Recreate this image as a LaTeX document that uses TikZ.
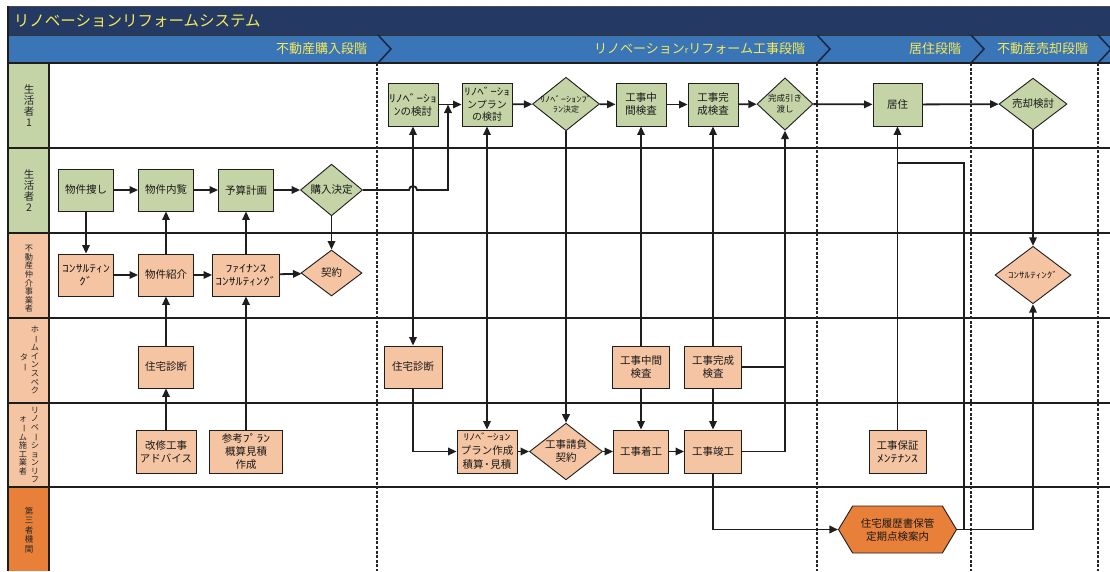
\documentclass[tikz,border=0pt]{standalone}
\usepackage{fontspec}
\setmainfont{Noto Sans CJK JP}
\newfontfamily\hkfont[FakeStretch=1.3]{Noto Sans CJK JP}
\usetikzlibrary{shapes.geometric,shapes.symbols,arrows.meta,calc}

\definecolor{navy}{RGB}{36,57,99}
\definecolor{phaseblue}{RGB}{58,117,184}
\definecolor{titleyellow}{RGB}{246,234,84}
\definecolor{actgreen}{RGB}{196,212,166}
\definecolor{actsalmon}{RGB}{245,196,162}
\definecolor{actorange}{RGB}{233,128,58}
\definecolor{linegray}{RGB}{30,30,30}

\newcommand{\hk}[1]{{\hkfont #1}}
\newcommand{\vbar}{\rotatebox[origin=c]{-90}{ー}}

\tikzset{
  lanelabel/.style={align=center, inner sep=0pt, text=black!85},
  act/.style={draw=linegray, line width=0.9pt, inner sep=1pt, align=center,
    minimum width=55pt, minimum height=42pt, text=black!90,
    font=\fontsize{10.5}{13}\selectfont},
  dec/.style={act, diamond, inner sep=0pt},
  flow/.style={draw=linegray, line width=1.8pt},
  sep/.style={line width=2.6pt, dash pattern=on 3pt off 1.6pt, draw=black!85},
}

\begin{document}
\begin{tikzpicture}[x=1pt, y=-1pt, >={Triangle[length=8.5pt,width=7.5pt]}, line width=1.2pt]
   \useasboundingbox (0,0) rectangle (1110,571);
   % title and phases
   \fill[navy] (8,7) rectangle (1110,35);
   \fill[phaseblue] (8,35) rectangle (1110,63);
   \draw[black!70, line width=0.8pt] (8,6) -- (1110,6);
   \draw[black!80, line width=0.8pt] (8,35) -- (1110,35);
   \foreach \x in {378,817,971,1098}
     \draw[navy!70!black, line width=1.6pt] (\x,35) -- (\x+13,49) -- (\x,63);
   \node[anchor=west, text=titleyellow, font=\fontsize{15.5}{15}\selectfont] (title) at (10,21) {リノベーションリフォームシステム};
   \begin{scope}[every node/.style={anchor=east, text=titleyellow, font=\fontsize{13}{13}\selectfont}]
    \node (ph1) at (371,49) {不動産購入段階};
    \node (ph2) at (809,49) {リノベーション{\fontsize{9}{9}\selectfont r}リフォーム工事段階};
    \node (ph3) at (965,49) {居住段階};
    \node (ph4) at (1092,49) {不動産売却段階};
   \end{scope}

   % lanes
   \fill[actgreen] (8,63) rectangle (49,233);
   \fill[actsalmon] (8,233) rectangle (49,487);
   \fill[actorange] (8,487) rectangle (49,571);
   \foreach \y in {63,148,233,318,403,487}
     \draw[linegray, line width=1.3pt] (8,\y) -- (1110,\y);
   \draw[linegray, line width=1.3pt] (8,6) -- (8,571);
   \draw[linegray, line width=1.3pt] (49,63) -- (49,571);
   \foreach \x in {377,817,971,1098}
     \draw[sep] (\x,63) -- (\x,571);

   \begin{scope}[every node/.style={lanelabel, font=\fontsize{10.5}{11}\selectfont}]
    \node (lane1) at (29,106) {生\\活\\者\\1};
    \node (lane2) at (29,191) {生\\活\\者\\2};
   \end{scope}
   \begin{scope}[every node/.style={lanelabel, font=\fontsize{8.2}{8.6}\selectfont}]
    \node (lane3) at (29,279) {不\\動\\産\\仲\\介\\事\\業\\者};
    \node (lane4a) at (35,360) {ホ\\\vbar\\ム\\イ\\ン\\ス\\ペ\\ク};
    \node (lane4b) at (24,363) {タ\\\vbar};
    \node (lane5a) at (35,445) {リ\\ノ\\ベ\\\vbar\\シ\\ョ\\ン\\リ\\フ};
    \node (lane5b) at (23,446) {ォ\\\vbar\\ム\\施\\工\\業\\者};
   \end{scope}
   \node[lanelabel, font=\fontsize{8.5}{9.4}\selectfont] (lane6) at (29,530) {第\\三\\者\\機\\関};

   % activities
   \begin{scope}[every node/.style={act, fill=actgreen}]
    \node (search) at (86,190) {物件捜し};
    \node (view) at (166,190) {物件内覧};
    \node (budget) at (246,190) {予算計画};
    \node (plan) [minimum width=50pt, minimum height=43pt] at (413,104.5) {\hk{ﾘﾉﾍﾞｰｼｮ}\\\hk{ﾝ}の検討};
    \node (planrev) [minimum width=50pt, minimum height=43pt, font=\fontsize{10}{12.5}\selectfont] at (487,104.5) {\hk{ﾘﾉﾍﾞｰｼｮ}\\ンプラン\\の検討};
    \node (midchk) [minimum width=50pt, minimum height=43pt] at (641,104.5) {工事中\\間検査};
    \node (endchk) [minimum width=50pt, minimum height=43pt] at (713,104.5) {工事完\\成検査};
    \node (live) [minimum width=49pt, minimum height=43pt] at (897.5,104.5) {居住};
   \end{scope}
   \begin{scope}[every node/.style={dec, fill=actgreen}]
    \node (buy) [minimum width=62pt, minimum height=48pt] at (331.5,190) {購入決定};
    \node (plandec) [minimum width=67pt, minimum height=50pt, inner sep=-4pt, font=\fontsize{8}{10}\selectfont] at (566,104) {\hk{ﾘﾉﾍﾞｰｼｮﾝﾌﾟ}\\\hk{ﾗﾝ}決定};
    \node (handover) [minimum width=56pt, minimum height=48pt, font=\fontsize{8.5}{10.5}\selectfont] at (785,104) {完成引き\\渡し};
    \node (sell) [minimum width=68pt, minimum height=48pt] at (1033,104) {売却検討};
   \end{scope}
   \begin{scope}[every node/.style={act, fill=actsalmon}]
    \node (consult) at (86,275) {\hk{ｺﾝｻﾙﾃｨﾝ}\\\hk{ｸﾞ}};
    \node (introduce) at (166,275) {物件紹介};
    \node (finance) [minimum width=67pt] at (246,275) {\hk{ﾌｧｲﾅﾝｽ}\\\hk{ｺﾝｻﾙﾃｨﾝｸﾞ}};
    \node (diag) at (166,367) {住宅診断};
    \node (advice) [minimum width=60pt, minimum height=43pt] at (166,451.5) {改修工事\\アドバイス};
    \node (estimate) [minimum width=73pt, minimum height=43pt] at (246,451.5) {参考\hk{ﾌﾟﾗﾝ}\\概算見積\\作成};
    \node (diag2) [minimum width=58pt] at (413,367) {住宅診断};
    \node (midchk2) [minimum width=57pt] at (641,367) {工事中間\\検査};
    \node (endchk2) [minimum width=57pt] at (713,367) {工事完成\\検査};
    \node (planmake) [minimum width=60pt, minimum height=43pt, font=\fontsize{10.5}{14}\selectfont] at (487,451.5) {{\fontsize{9}{14}\selectfont\hk{ﾘﾉﾍﾞｰｼｮﾝ}}\\プラン作成\\積算\hk{･}見積};
    \node (start) [minimum height=43pt] at (641,451.5) {工事着工};
    \node (finish) [minimum width=57pt, minimum height=43pt] at (713,451.5) {工事竣工};
    \node (warranty) [minimum width=57pt, minimum height=43pt] at (897.5,451.5) {工事保証\\\hk{ﾒﾝﾃﾅﾝｽ}};
   \end{scope}
   \begin{scope}[every node/.style={dec, fill=actsalmon}]
    \node (deal) [minimum width=61pt, minimum height=46pt] at (331.5,273) {契約};
    \node (contract) [minimum width=73pt, minimum height=55pt, inner sep=-2pt] at (566,451.5) {工事請負\\契約};
    \node (consult2) [minimum width=76pt, minimum height=42pt, font=\fontsize{8.5}{10}\selectfont] at (1033,275) {\hk{ｺﾝｻﾙﾃｨﾝｸﾞ}};
   \end{scope}
   \node (record) [act, fill=actorange, signal, signal to=west and east, signal pointer angle=118,
     minimum width=118pt, minimum height=47pt] at (897.5,529.5) {住宅履歴書保管\\定期点検案内};

   % connectors
   \begin{scope}[->, every edge/.style={flow}]
    \draw (search) edge (view);
    \draw (view) edge (budget);
    \draw (budget) edge (buy);
    \draw (search) edge (consult);
    \draw (introduce) edge (view);
    \draw (finance) edge (budget);
    \draw (buy) edge (deal);
    \draw (consult) edge (introduce);
    \draw (introduce) edge (finance);
    \draw (finance) edge (deal);
    \draw (diag) edge (introduce);
    \draw (advice) edge (diag);
    \draw (estimate) edge (finance);

    \draw (plan) edge (planrev);
    \draw (planrev) edge (plandec);
    \draw (plandec) edge (midchk);
    \draw (midchk) edge (endchk);
    \draw (endchk) edge (handover);
    \draw (handover) edge (live);
    \draw (live) edge (sell);
    \draw (plan) edge [<->] (diag2);
    \draw (planrev) edge [<->] (planmake);
    \draw (plandec) edge (contract);
    \draw (planmake) edge (contract);
    \draw (contract) edge (start);
    \draw (start) edge (finish);
    \draw (midchk2) edge (midchk);
    \draw (midchk2) edge (start);
    \draw (endchk2) edge (endchk);
    \draw (endchk2) edge (finish);
    \draw (warranty) edge (live);
    \draw (sell) edge (consult2);
   \end{scope}
   \begin{scope}[every path/.style={flow}]
    \coordinate (join) at (448,104.5);
    \coordinate (hexr) at (964,529.5);
    \coordinate (turn) at (897.5,163);
    \draw[->] (buy.east) -- (409,190) arc[start angle=180, end angle=0, radius=4pt] -- (448,190) -- (join);
    \draw[->] (diag2.south) |- (planmake.west);
    \draw[->] (finish.east) -| (handover.south);
    \draw (endchk2.east) -- (endchk2.east -| handover.south);
    \draw[->] (finish.south) |- (record.west);
    \draw[->] (record.east) -| (consult2.south);
    \draw (record.east) -- (hexr) |- (turn);
   \end{scope}
\end{tikzpicture}
\end{document}
